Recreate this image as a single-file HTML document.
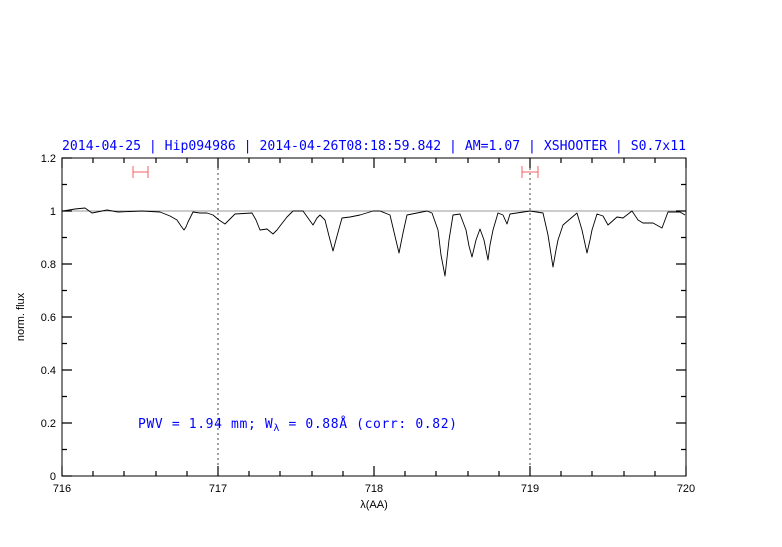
<!DOCTYPE html>
<html><head><meta charset="utf-8"><style>
body{margin:0;background:#fff;}
.mono{font-family:"DejaVu Sans Mono","Liberation Mono",monospace;}
.sans{font-family:"Liberation Sans",sans-serif;}
</style></head><body>
<svg width="782" height="542" viewBox="0 0 782 542" xmlns="http://www.w3.org/2000/svg">
<rect width="782" height="542" fill="#fff"/>
<text class="mono" x="62" y="150" font-size="13.5" fill="#0000ff" textLength="624" lengthAdjust="spacingAndGlyphs">2014-04-25 | Hip094986 | 2014-04-26T08:18:59.842 | AM=1.07 | XSHOOTER | S0.7x11</text>
<line x1="62" y1="211" x2="686" y2="211" stroke="#999" stroke-width="1"/>
<line x1="218" y1="158" x2="218" y2="476" stroke="#444" stroke-dasharray="2,3"/>
<line x1="530" y1="158" x2="530" y2="476" stroke="#444" stroke-dasharray="2,3"/>
<g stroke="#f06060" stroke-width="1" fill="none">
<path d="M133 172H148M133 166V178M148 166V178"/>
<path d="M522 172H538M522 166V178M538 166V178"/>
</g>
<polyline fill="none" stroke="#000" stroke-width="0.9" stroke-linejoin="round" points="63,211 75,209 85,208 92,213 107,210 118,212 142,211 160,212 170,216 177,220 181,226 184,230 186,227 188,222 193,212 200,213 207,213 213,215 219,220 225,224 230,219 235,214 252,213 256,220 260,230 267,229 273,234 277,230 280,226 287,217 293,211 303,211 308,218 313,225 317,218 320,215 325,220 329,236 333,251 337,236 342,218 350,217 360,215 373,211 380,211 390,215 394,232 399,253 403,233 407,215 427,211 432,213 438,230 441,255 445,276 447,258 449,240 453,215 460,214 466,230 469,246 472,257 476,240 480,229 484,240 488,260 490,245 493,230 498,213 503,215 507,224 510,214 530,211 543,213 548,235 553,267 556,250 558,240 563,225 577,213 582,230 587,253 590,240 592,230 597,214 603,216 608,225 617,217 623,218 632,211 638,220 643,223 653,223 662,228 668,212 680,212 685,215"/>
<rect x="62" y="158" width="624" height="318" fill="none" stroke="#000" stroke-width="1"/>
<g stroke="#000" stroke-width="1.2">
<path d="M62 476v-10M218 476v-10M374 476v-10M530 476v-10M686 476v-10M62 158v10M218 158v10M374 158v10M530 158v10M686 158v10"/>
<path d="M93 476v-5M124 476v-5M156 476v-5M187 476v-5M249 476v-5M280 476v-5M312 476v-5M343 476v-5M405 476v-5M436 476v-5M468 476v-5M499 476v-5M561 476v-5M592 476v-5M624 476v-5M655 476v-5"/>
<path d="M93 158v5M124 158v5M156 158v5M187 158v5M249 158v5M280 158v5M312 158v5M343 158v5M405 158v5M436 158v5M468 158v5M499 158v5M561 158v5M592 158v5M624 158v5M655 158v5"/>
<path d="M62 476h10M62 423h10M62 370h10M62 317h10M62 264h10M62 211h10M62 158h10M686 423h-10M686 370h-10M686 317h-10M686 264h-10M686 211h-10"/>
<path d="M62 449.5h5M62 396.5h5M62 343.5h5M62 290.5h5M62 237.5h5M62 184.5h5M686 449.5h-5M686 396.5h-5M686 343.5h-5M686 290.5h-5M686 237.5h-5M686 184.5h-5"/>
</g>
<g class="sans" font-size="11" fill="#000" text-anchor="end">
<text x="56" y="480">0</text><text x="56" y="427">0.2</text><text x="56" y="374">0.4</text><text x="56" y="321">0.6</text><text x="56" y="268">0.8</text><text x="56" y="215">1</text><text x="56" y="162">1.2</text>
</g>
<g class="sans" font-size="11" fill="#000" text-anchor="middle">
<text x="62" y="492">716</text><text x="218" y="492">717</text><text x="374" y="492">718</text><text x="530" y="492">719</text><text x="686" y="492">720</text>
<text x="374" y="508">λ(AA)</text>
</g>
<text class="sans" transform="translate(24,317) rotate(-90)" font-size="11" text-anchor="middle">norm. flux</text>
<text class="mono" x="138" y="428" font-size="13" fill="#0000ff" textLength="319" lengthAdjust="spacing">PWV = 1.94 mm; W<tspan font-size="10" dy="3">λ</tspan><tspan dy="-3"> = 0.88Å (corr: 0.82)</tspan></text>
</svg>
</body></html>
